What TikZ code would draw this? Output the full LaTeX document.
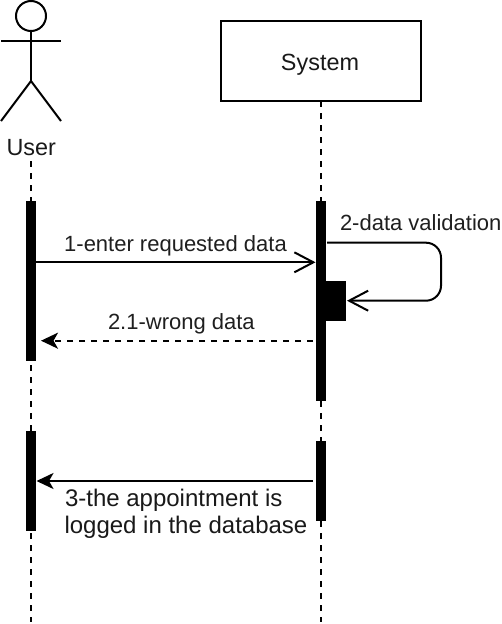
\documentclass[tikz,border=0pt]{standalone}
\usepackage{fontspec}
\setmainfont{Liberation Sans}
\usetikzlibrary{arrows.meta,calc}
\tikzset{
  ln/.style={line width=2pt,draw=black},
  life/.style={ln,dash pattern=on 6pt off 6pt},
  bar/.style={draw=none,fill=black,inner sep=0pt,outer sep=0pt,rectangle,minimum width=#1,anchor=north west},
  lbl/.style={inner sep=0pt,outer sep=0pt,text=black!88,font=\fontsize{22}{26}\selectfont},
  big/.style={inner sep=0pt,outer sep=0pt,text=black!90,font=\fontsize{23.4}{27}\selectfont},
  bigger/.style={inner sep=0pt,outer sep=0pt,text=black!90,font=\fontsize{24}{27}\selectfont},
  open/.style={-{Straight Barb[length=19pt,width=20pt,line width=2pt]}},
  solid tip/.style={-{Stealth[length=17pt,width=16pt,inset=4.5pt]}}
}
\begin{document}
\begin{tikzpicture}[x=1pt,y=-1pt]
\useasboundingbox (0,0) rectangle (502,624);
\fill[white] (0,0) rectangle (502,624);
% actor
\node[circle,ln,minimum size=30pt,inner sep=0pt,outer sep=0pt] (head) at (31,16) {};
\coordinate (hip) at (31,81);
\coordinate (armL) at (1,41);
\coordinate (armR) at (61,41);
\coordinate (footL) at (1,121);
\coordinate (footR) at (61,121);
\draw[ln] (head.south) -- (hip);
\draw[ln] (armL) -- (armR);
\draw[ln] (footL) -- (hip) -- (footR);
\node[big,anchor=base] (user) at (31.3,155) {User};
% system
\node[ln,fill=white,rectangle,minimum width=200pt,minimum height=80pt,inner sep=0pt,outer sep=0pt,anchor=north west] (sys) at (221,21) {};
\node[big,anchor=base] (systxt) at (320,70) {System};
% lifelines
\coordinate (uEnd) at (31,622);
\coordinate (uStart) at (31,161);
\coordinate (sEnd) at (321,622);
\draw[life] (uStart) -- (uEnd);
\draw[life] (sys.south) -- (sEnd);
% activation bars
\node[bar=10pt,minimum height=160pt] (ub1) at (26,201) {};
\node[bar=10pt,minimum height=100pt] (ub2) at (26,431) {};
\node[bar=10pt,minimum height=200pt] (sb1) at (316,201) {};
\node[bar=10pt,minimum height=80pt] (sb2) at (316,441) {};
\node[bar=20pt,minimum height=40pt] (sb3) at (326,281) {};
% messages
\coordinate (m1) at (0,262.3);
\coordinate (m2a) at (0,242.7);
\coordinate (m2b) at (0,300.7);
\coordinate (m2x) at (441,0);
\coordinate (m3) at (0,340.7);
\coordinate (m4) at (0,481);
\draw[ln,open,shorten >=0.5pt] (ub1.east |- m1) -- (sb1.west |- m1);
\draw[ln,rounded corners=15pt,open] ($(sb1.east |- m2a)+(1,0)$) -- (m2x |- m2a) -- (m2x |- m2b) -- ($(sb3.east |- m2b)+(1,0)$);
\draw[ln,dash pattern=on 6pt off 6pt,solid tip] ($(sb1.west |- m3)+(-3,0)$) -- ($(ub1.east |- m3)+(5,0)$);
\draw[ln,solid tip] ($(sb2.west |- m4)+(-3,0)$) -- ($(ub2.east |- m4)+(0.5,0)$);
% labels
\node[lbl,anchor=base] (t1) at (175.5,251.7) {1-enter requested data};
\node[lbl,anchor=base west] (t2) at (340,230.7) {2-data validation};
\node[lbl,anchor=base west] (t3) at (108,329) {2.1-wrong data};
\node[bigger,anchor=base west] (t4) at (65,506) {3-the appointment is};
\node[bigger,anchor=base west] (t5) at (64.5,533) {logged in the database};
\end{tikzpicture}
\end{document}
